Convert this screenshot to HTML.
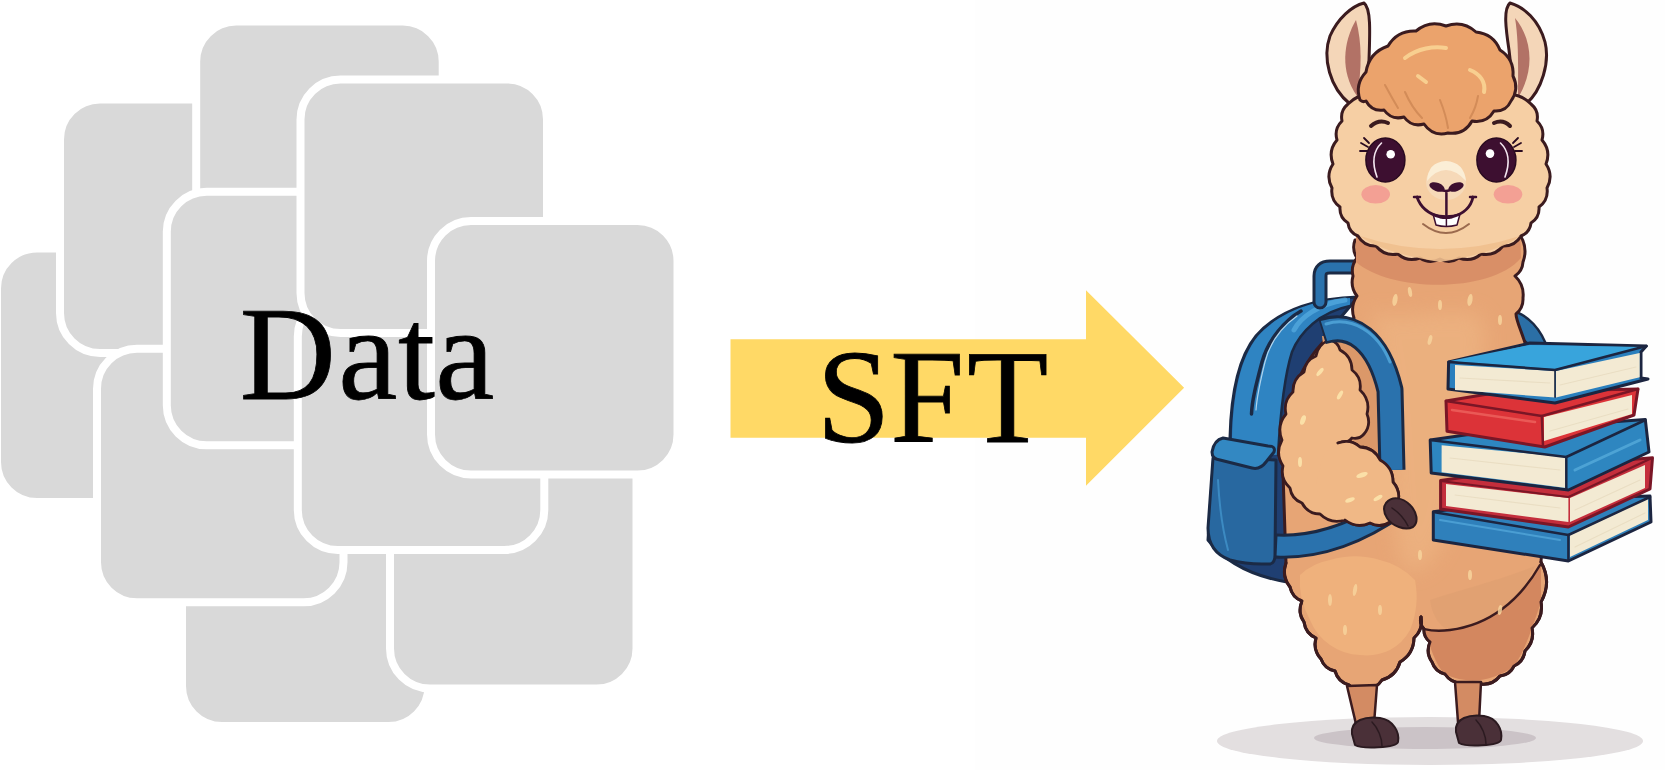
<!DOCTYPE html>
<html><head><meta charset="utf-8">
<style>
html,body{margin:0;padding:0;background:#fff;width:1665px;height:770px;overflow:hidden}
svg{display:block}
.sq{fill:#d9d9d9;stroke:#fff;stroke-width:8}
.t{font-family:"Liberation Serif",serif;fill:#000;stroke:#000;stroke-width:0.8px;font-kerning:none;font-feature-settings:"kern" 0}
</style></head><body>
<svg width="1665" height="770" viewBox="0 0 1665 770">
<rect x="975" y="0" width="690" height="770" fill="#fefefe"/>
<g id="squares">
<rect class="sq" x="-3" y="248.5" width="246.5" height="253.5" rx="40"/>
<rect class="sq" x="60" y="99.5" width="246.5" height="253.5" rx="40"/>
<rect class="sq" x="196.2" y="21.6" width="246.5" height="253.5" rx="40"/>
<rect class="sq" x="182" y="472.5" width="246.5" height="253.5" rx="40"/>
<rect class="sq" x="97" y="348.8" width="246.5" height="253.5" rx="40"/>
<rect class="sq" x="166.8" y="191.8" width="246.5" height="253.5" rx="40"/>
<rect class="sq" x="390" y="435" width="246.5" height="253.5" rx="40"/>
<rect class="sq" x="297.8" y="296.5" width="246.5" height="253.5" rx="40"/>
<rect class="sq" x="300.5" y="79.5" width="246.5" height="253.5" rx="40"/>
<rect class="sq" x="431" y="221" width="246.5" height="253.5" rx="40"/>
</g>
<text class="t" x="239.8 338.2 397.9 435.3" y="398.6" font-size="133">Data</text>
<polygon points="730.5,339.2 1086,339.2 1086,290.3 1184.1,387.8 1086,485.7 1086,437.7 730.5,437.7" fill="#ffd966"/>
<text class="t" x="816.6 890.2 967" y="442" font-size="133">SFT</text>
<g id="llama" stroke-linejoin="round" stroke-linecap="round">
<ellipse cx="1430" cy="741" rx="213" ry="24" fill="#e3dfe0"/>
<ellipse cx="1425" cy="738" rx="111" ry="11" fill="#cbc3c7"/>
<path d="M1510,310 C1528,314 1542,330 1548,350 L1546,366 C1536,350 1524,338 1510,332 Z" fill="#2b6fa6" stroke="#1b2a45" stroke-width="2.5"/>
<path d="M1358,297 C1320,298 1280,308 1256,336 C1238,358 1231,395 1230,438 L1230,450 L1214,452 L1208,540 C1225,562 1252,576 1287,582 L1300,582 L1330,330 Z" fill="#1f3f72" stroke="#1b2a45" stroke-width="3"/>
<path d="M1350,298 C1320,299 1282,309 1258,336 C1240,358 1233,395 1232,438 L1232,452 L1278,455 C1280,420 1283,380 1292,352 C1300,332 1320,312 1350,306 Z" fill="#2f84c2"/>
<path d="M1345,300 C1318,304 1300,318 1294,330" fill="none" stroke="#5fb4e6" stroke-width="5" opacity="0.6"/>
<path d="M1350,306 C1320,312 1300,332 1292,352 C1283,380 1280,420 1278,455" fill="none" stroke="#1b2a45" stroke-width="2.5"/>
<path d="M1301,311 C1285,320 1268,340 1262,362 C1256,385 1252,400 1251.5,414" fill="none" stroke="#1b2a45" stroke-width="3.5"/>
<path d="M1297,316 C1283,326 1270,342 1265,362 C1260,382 1257,396 1256,410" fill="none" stroke="#cfe8f7" stroke-width="1.2" opacity="0.8"/>
<path d="M1320,302 L1320,276 Q1320,267 1330,267 L1358,267" fill="none" stroke="#1b2a45" stroke-width="15"/>
<path d="M1320,302 L1320,276 Q1320,267 1330,267 L1358,267" fill="none" stroke="#2a72ad" stroke-width="9"/>
<path d="M1213,458 L1208,528 Q1208,552 1230,560 Q1245,564 1262,564 L1270,564 Q1275,563 1275,555 L1276,460 Z" fill="#2868a0" stroke="#1b2a45" stroke-width="3"/>
<path d="M1223,438 Q1214,440 1212,452 Q1212,459 1220,460 L1252,468 Q1260,470 1266,462 L1274,452 Q1276,446 1268,446 Z" fill="#3388c2" stroke="#1b2a45" stroke-width="3"/>
<path d="M1218,480 Q1220,520 1228,550" fill="none" stroke="#4aa2d8" stroke-width="2" opacity="0.6"/>
<path d="M1355,240 Q1351.5,249.5 1357.0,258.0 Q1350.5,266.0 1353.0,276.0 Q1350.0,287.0 1357.0,296.0 Q1350.0,306.2 1354.0,318.0 C1330,330 1300,360 1288,410 L1283,473 L1286,563 Q1281.3,576.1 1290.0,587.0 Q1292.1,597.4 1302.0,601.0 Q1297.1,612.1 1304.0,622.0 Q1305.5,633.4 1316.0,638.0 Q1312.6,649.9 1321.0,659.0 Q1324.6,668.9 1335.0,671.0 Q1338.1,681.9 1349.0,685.0 Q1354.6,691.4 1363.0,690.0 Q1375.3,690.3 1382.0,680.0 Q1396.0,676.0 1400.0,662.0 Q1413.7,653.9 1414.0,638.0 Q1423.4,629.5 1421.0,617.0 L1421,617 Q1419.1,623.8 1424.0,629.0 Q1423.4,637.2 1430.0,642.0 Q1425.4,652.6 1432.0,662.0 Q1435.1,671.6 1445.0,674.0 Q1451.0,683.3 1462.0,683.0 Q1471.2,688.8 1481.0,684.0 Q1492.7,685.3 1500.0,676.0 Q1509.8,674.9 1514.0,666.0 Q1523.7,661.6 1525.0,651.0 Q1534.9,641.5 1532.0,628.0 Q1543.8,617.5 1541.0,602.0 Q1552.2,582.0 1541.0,562.0 C1546,500 1540,420 1530,360 C1524,335 1516,322 1516,314 Q1523.5,307.8 1523.0,298.0 Q1524.5,285.0 1515.0,276.0 Q1522.5,271.0 1523.0,262.0 Q1528.2,247.8 1520.0,235.0 Z" fill="#e7a575" stroke="#3b1b1f" stroke-width="3"/>
<defs><filter id="blur8" x="-50%" y="-50%" width="200%" height="200%"><feGaussianBlur stdDeviation="10"/></filter></defs>
<path d="M1370,310 C1400,325 1440,305 1480,315 C1495,335 1470,420 1450,520 C1440,560 1420,575 1405,570 C1385,520 1395,400 1370,310 Z" fill="#eeb583" opacity="0.7" filter="url(#blur8)"/>
<path d="M1300.0,575.0 Q1312.8,563.0 1330.0,560.0 Q1355.0,552.5 1380.0,560.0 Q1400.5,564.8 1415.0,580.0 Q1420.0,605.8 1410.0,630.0 Q1403.0,643.0 1390.0,650.0 Q1375.8,657.0 1360.0,655.0 Q1343.5,654.5 1330.0,645.0 Q1316.2,635.5 1310.0,620.0 Q1298.2,599.0 1300.0,575.0 Z" fill="#efb17c"/>
<path d="M1424,629 C1435,632 1450,630 1450,630 C1490,625 1520,600 1541,565 L1541,602 C1532,628 1525,651 1514,666 C1495,680 1470,686 1445,674 C1435,665 1430,645 1424,629 Z" fill="#d3875f"/>
<path d="M1430,600 C1460,590 1500,580 1535,566 C1520,600 1490,625 1450,630 C1440,628 1432,615 1430,600 Z" fill="#e0a072" opacity="0.8"/>
<path d="M1421.0,617.0 Q1419.1,623.8 1424.0,629.0 Q1423.4,637.2 1430.0,642.0 Q1425.4,652.6 1432.0,662.0 Q1435.1,671.6 1445.0,674.0 Q1451.0,683.3 1462.0,683.0 Q1471.2,688.8 1481.0,684.0 Q1492.7,685.3 1500.0,676.0 Q1509.8,674.9 1514.0,666.0 Q1523.7,661.6 1525.0,651.0 Q1534.9,641.5 1532.0,628.0 Q1543.8,617.5 1541.0,602.0 Q1552.2,582.0 1541.0,562.0" fill="none" stroke="#3b1b1f" stroke-width="3"/>
<path d="M1286.0,563.0 Q1281.3,576.1 1290.0,587.0 Q1292.1,597.4 1302.0,601.0 Q1297.1,612.1 1304.0,622.0 Q1305.5,633.4 1316.0,638.0 Q1312.6,649.9 1321.0,659.0 Q1324.6,668.9 1335.0,671.0 Q1338.1,681.9 1349.0,685.0 Q1354.6,691.4 1363.0,690.0 Q1375.3,690.3 1382.0,680.0 Q1396.0,676.0 1400.0,662.0 Q1413.7,653.9 1414.0,638.0 Q1423.4,629.5 1421.0,617.0" fill="none" stroke="#3b1b1f" stroke-width="3"/>
<path d="M1540,565 C1520,600 1490,625 1450,630 C1435,632 1428,630 1424,629" fill="none" stroke="#3b1b1f" stroke-width="2.5"/>
<path d="M1347,686 L1377,685 L1374,724 L1356,724 Z" fill="#d38b63" stroke="#3b1b1f" stroke-width="2.5"/>
<path d="M1455,682 L1481,682 L1479,722 L1458,722 Z" fill="#d38b63" stroke="#3b1b1f" stroke-width="2.5"/>
<path d="M1352,734 C1350,720 1366,716 1380,718 C1393,720 1400,732 1398,742 C1396,748 1362,749 1355,745 Z" fill="#4a3038" stroke="#2b1a20" stroke-width="2"/>
<path d="M1372,722 C1378,728 1382,738 1382,746" fill="none" stroke="#2b1a20" stroke-width="1.5"/>
<path d="M1456,732 C1454,718 1470,714 1484,716 C1497,718 1503,730 1501,740 C1499,746 1466,747 1459,743 Z" fill="#4a3038" stroke="#2b1a20" stroke-width="2"/>
<path d="M1476,720 C1482,726 1486,736 1486,744" fill="none" stroke="#2b1a20" stroke-width="1.5"/>
<ellipse cx="1395" cy="300" rx="2.5" ry="6.0" transform="rotate(10 1395 300)" fill="#f7d49c" opacity="0.85"/>
<ellipse cx="1410" cy="292" rx="2.0" ry="5.0" transform="rotate(-10 1410 292)" fill="#f7d49c" opacity="0.85"/>
<ellipse cx="1440" cy="305" rx="2.0" ry="5.0" transform="rotate(0 1440 305)" fill="#f7d49c" opacity="0.85"/>
<ellipse cx="1470" cy="300" rx="2.5" ry="6.0" transform="rotate(10 1470 300)" fill="#f7d49c" opacity="0.85"/>
<ellipse cx="1500" cy="320" rx="2.0" ry="5.0" transform="rotate(0 1500 320)" fill="#f7d49c" opacity="0.85"/>
<ellipse cx="1430" cy="340" rx="2.0" ry="5.0" transform="rotate(15 1430 340)" fill="#f7d49c" opacity="0.85"/>
<ellipse cx="1300" cy="440" rx="2.5" ry="6.0" transform="rotate(30 1300 440)" fill="#f7d49c" opacity="0.85"/>
<ellipse cx="1320" cy="395" rx="2.0" ry="5.0" transform="rotate(30 1320 395)" fill="#f7d49c" opacity="0.85"/>
<ellipse cx="1340" cy="470" rx="2.0" ry="5.0" transform="rotate(20 1340 470)" fill="#f7d49c" opacity="0.85"/>
<ellipse cx="1360" cy="480" rx="3.0" ry="6.0" transform="rotate(60 1360 480)" fill="#f7d49c" opacity="0.85"/>
<ellipse cx="1378" cy="490" rx="2.5" ry="5.0" transform="rotate(60 1378 490)" fill="#f7d49c" opacity="0.85"/>
<ellipse cx="1330" cy="600" rx="2.0" ry="6.0" transform="rotate(0 1330 600)" fill="#f7d49c" opacity="0.85"/>
<ellipse cx="1355" cy="590" rx="2.0" ry="6.0" transform="rotate(10 1355 590)" fill="#f7d49c" opacity="0.85"/>
<ellipse cx="1380" cy="610" rx="2.0" ry="5.0" transform="rotate(0 1380 610)" fill="#f7d49c" opacity="0.85"/>
<ellipse cx="1345" cy="630" rx="2.0" ry="5.0" transform="rotate(0 1345 630)" fill="#f7d49c" opacity="0.85"/>
<ellipse cx="1470" cy="575" rx="2.0" ry="5.0" transform="rotate(0 1470 575)" fill="#f7d49c" opacity="0.85"/>
<ellipse cx="1500" cy="610" rx="2.0" ry="5.0" transform="rotate(10 1500 610)" fill="#f7d49c" opacity="0.85"/>
<ellipse cx="1420" cy="555" rx="2.0" ry="5.0" transform="rotate(0 1420 555)" fill="#f7d49c" opacity="0.85"/>
<path d="M1275,546 C1320,548 1360,532 1398,505" fill="none" stroke="#1b2a45" stroke-width="25" stroke-linecap="butt"/>
<path d="M1277,546 C1320,548 1360,532 1398,505" fill="none" stroke="#2a72ad" stroke-width="19" stroke-linecap="butt"/>
<path d="M1322,336 C1345,335 1368,345 1378,380 L1386,455 L1336,452 Z" fill="#db9869"/>
<path d="M1330.0,340.0 Q1318.2,343.8 1316.0,356.0 Q1305.2,360.4 1304.0,372.0 Q1292.5,378.7 1293.0,392.0 Q1282.9,400.9 1286.0,414.0 Q1276.2,425.8 1282.0,440.0 Q1274.7,453.3 1283.0,466.0 Q1279.9,479.1 1290.0,488.0 Q1291.5,499.1 1302.0,503.0 Q1307.7,513.9 1320.0,514.0 Q1330.7,524.5 1345.0,520.0 Q1356.6,529.0 1370.0,523.0 Q1380.3,528.5 1390.0,522.0 Q1398.6,515.6 1397.0,505.0 Q1401.9,492.3 1393.0,482.0 Q1393.1,467.1 1380.0,460.0 Q1373.9,447.5 1360.0,447.0 Q1350.2,438.4 1338.0,443.0 Q1346.5,444.7 1352.0,438.0 Q1359.2,439.6 1364.0,434.0 Q1371.5,424.9 1367.0,414.0 Q1370.7,399.9 1360.0,390.0 Q1362.0,377.6 1352.0,370.0 Q1352.0,356.4 1340.0,350.0 Q1338.0,342.0 1330.0,340.0 Z" fill="#f0b886" stroke="#3b1b1f" stroke-width="2.8"/>
<ellipse cx="1320" cy="372" rx="2.0" ry="5.0" transform="rotate(40 1320 372)" fill="#fbe0a8"/>
<ellipse cx="1303" cy="420" rx="2.5" ry="5.0" transform="rotate(20 1303 420)" fill="#fbe0a8"/>
<ellipse cx="1300" cy="462" rx="2.0" ry="5.0" transform="rotate(0 1300 462)" fill="#fbe0a8"/>
<ellipse cx="1335" cy="485" rx="2.5" ry="6.0" transform="rotate(70 1335 485)" fill="#fbe0a8"/>
<ellipse cx="1362" cy="475" rx="2.5" ry="6.0" transform="rotate(70 1362 475)" fill="#fbe0a8"/>
<ellipse cx="1378" cy="498" rx="2.0" ry="5.0" transform="rotate(60 1378 498)" fill="#fbe0a8"/>
<ellipse cx="1340" cy="395" rx="2.0" ry="5.0" transform="rotate(30 1340 395)" fill="#fbe0a8"/>
<path d="M1322,331 C1352,322 1378,340 1390,390 L1392,470" fill="none" stroke="#1b2a45" stroke-width="27" stroke-linecap="butt"/>
<path d="M1324,331 C1352,322 1378,340 1390,390 L1392,470" fill="none" stroke="#2a72ad" stroke-width="21" stroke-linecap="butt"/>
<path d="M1326,324 C1352,316 1378,332 1390,362" fill="none" stroke="#5ab0e2" stroke-width="3" opacity="0.7"/>
<path d="M1338.0,443.0 Q1320.9,451.1 1320.0,470.0 Q1312.0,485.6 1322.0,500.0 Q1327.5,516.9 1345.0,520.0 Q1356.6,529.0 1370.0,523.0 Q1380.3,528.5 1390.0,522.0 Q1398.6,515.6 1397.0,505.0 Q1401.9,492.3 1393.0,482.0 Q1393.1,467.1 1380.0,460.0 Q1373.9,447.5 1360.0,447.0 Q1350.2,438.4 1338.0,443.0 Z" fill="#f0b886"/>
<path d="M1345.0,520.0 Q1356.6,529.0 1370.0,523.0 Q1380.3,528.5 1390.0,522.0 Q1398.6,515.6 1397.0,505.0 Q1401.9,492.3 1393.0,482.0 Q1393.1,467.1 1380.0,460.0 Q1373.9,447.5 1360.0,447.0 Q1350.2,438.4 1338.0,443.0" fill="none" stroke="#3b1b1f" stroke-width="2.8"/>
<ellipse cx="1362" cy="475" rx="2.5" ry="6.0" transform="rotate(70 1362 475)" fill="#fbe0a8"/>
<ellipse cx="1378" cy="498" rx="2.0" ry="5.0" transform="rotate(60 1378 498)" fill="#fbe0a8"/>
<ellipse cx="1350" cy="500" rx="2.0" ry="5.0" transform="rotate(70 1350 500)" fill="#fbe0a8"/>
<path d="M1386,503 C1392,496 1402,497 1410,505 C1417,512 1419,522 1413,527 C1405,531 1392,526 1387,518 C1384,513 1383,507 1386,503 Z" fill="#4a3038" stroke="#2b1a20" stroke-width="2"/>
<path d="M1392,508 C1398,512 1404,518 1408,526" fill="none" stroke="#2b1a20" stroke-width="1.5"/>
</g>
<g id="head" stroke-linejoin="round" stroke-linecap="round">
<!-- neck band -->
<path d="M1356,226 L1356,262 C1390,292 1490,294 1521,258 L1520,226 Z" fill="#d98f67"/>
<!-- ears -->
<path d="M1350,104 C1330,88 1322,58 1330,36 C1338,18 1352,6 1364,3 C1371,8 1370,32 1369,60 C1368,80 1364,92 1360,102 Z" fill="#f4d6b8" stroke="#3b1b1f" stroke-width="3"/>
<path d="M1356,20 C1343,42 1340,72 1357,96 C1362,70 1362,42 1356,20 Z" fill="#b27266"/>
<path d="M1526,104 C1542,90 1550,62 1545,42 C1539,20 1524,7 1510,3 C1503,9 1506,30 1509,50 C1512,75 1513,90 1514,100 Z" fill="#f4d6b8" stroke="#3b1b1f" stroke-width="3"/>
<path d="M1515,18 C1530,36 1537,66 1518,98 C1518,70 1519,42 1515,18 Z" fill="#b27266"/>
<!-- face -->
<path d="M1348.0,104.0 Q1339.9,110.7 1342.0,121.0 Q1333.8,129.0 1337.0,140.0 Q1327.8,150.8 1333.0,164.0 Q1325.3,175.7 1332.0,188.0 Q1330.3,199.9 1340.0,207.0 Q1339.2,217.4 1348.0,223.0 Q1349.1,232.5 1358.0,236.0 Q1364.0,246.4 1376.0,246.0 Q1384.6,256.6 1398.0,254.0 Q1407.8,262.6 1420.0,258.0 Q1429.7,264.5 1440.0,259.0 Q1449.8,264.2 1459.0,258.0 Q1471.2,262.6 1481.0,254.0 Q1494.4,256.6 1503.0,246.0 Q1515.0,246.4 1521.0,236.0 Q1529.9,232.5 1531.0,223.0 Q1539.8,217.4 1539.0,207.0 Q1548.7,199.9 1547.0,188.0 Q1553.7,175.7 1546.0,164.0 Q1551.2,150.8 1542.0,140.0 Q1545.2,129.0 1537.0,121.0 Q1539.1,110.7 1531.0,104.0 Q1517.9,90.7 1500.0,96.0 Q1471.8,75.0 1440.0,90.0 Q1408.2,75.0 1380.0,96.0 Q1361.6,90.4 1348.0,104.0 Z" fill="#f6cfa4" stroke="#3b1b1f" stroke-width="3"/>
<path d="M1352,226 Q1440,282 1528,226 L1526,234 Q1440,288 1354,234 Z" fill="#eab485" opacity="0.0"/>
<path d="M1360,236 Q1440,262 1520,236 Q1500,252 1440,262 Q1380,252 1360,236 Z" fill="#efbf8e" opacity="0.9"/>
<!-- topknot -->
<path d="M1360.0,100.0 Q1354.6,84.2 1366.0,72.0 Q1369.2,52.4 1388.0,46.0 Q1397.5,30.1 1416.0,31.0 Q1429.5,19.5 1446.0,26.0 Q1462.8,20.0 1476.0,32.0 Q1493.4,33.8 1500.0,50.0 Q1514.3,59.1 1513.0,76.0 Q1519.5,89.1 1511.0,101.0 Q1506.0,112.0 1494.0,111.0 Q1486.5,123.7 1472.0,121.0 Q1464.2,135.4 1448.0,133.0 Q1432.8,136.9 1424.0,124.0 Q1411.5,127.5 1404.0,117.0 Q1391.5,120.5 1384.0,110.0 Q1371.8,111.8 1366.0,101.0 Q1362.7,102.6 1360.0,100.0 Z" fill="#eba36c" stroke="#3b1b1f" stroke-width="3"/>
<path d="M1405,92 Q1412,108 1422,118 M1440,100 Q1446,115 1448,128 M1478,96 Q1476,108 1470,118 M1385,85 Q1392,98 1398,108" fill="none" stroke="#c98150" stroke-width="2" opacity="0.7"/>
<path d="M1405,58 C1418,48 1434,46 1446,48" fill="none" stroke="#f8cf90" stroke-width="4"/>
<path d="M1470,70 C1480,74 1486,82 1484,92" fill="none" stroke="#f8cf90" stroke-width="4"/>
<path d="M1418,76 l8,6" fill="none" stroke="#f8cf90" stroke-width="4"/>
<!-- brows -->
<path d="M1371,126 Q1379,119 1388,123" fill="none" stroke="#3b1b1f" stroke-width="4"/>
<path d="M1494,123 Q1503,119 1510,126" fill="none" stroke="#3b1b1f" stroke-width="4"/>
<!-- eyes -->
<ellipse cx="1385.4" cy="160" rx="19.5" ry="22" fill="#3d0f30" stroke="#2a0a20" stroke-width="1.5"/>
<ellipse cx="1496.4" cy="160" rx="19.5" ry="22" fill="#3d0f30" stroke="#2a0a20" stroke-width="1.5"/>
<path d="M1381.5,143 Q1369,155 1377,177" fill="none" stroke="#f4e6f0" stroke-width="1.6"/>
<path d="M1500.5,143 Q1513,155 1505,177" fill="none" stroke="#f4e6f0" stroke-width="1.6"/>
<circle cx="1390.7" cy="154.3" r="4.3" fill="#fff"/>
<circle cx="1490" cy="153.6" r="4.3" fill="#fff"/>
<path d="M1368,147 L1361,143 M1367,151 L1360,151 M1369,143 L1364,138" stroke="#2a0a20" stroke-width="1.8"/>
<path d="M1514,147 L1521,143 M1515,151 L1522,151 M1513,143 L1518,138" stroke="#2a0a20" stroke-width="1.8"/>
<!-- cheeks -->
<ellipse cx="1375.7" cy="194.3" rx="14.3" ry="9.3" fill="#f3a094"/>
<ellipse cx="1508" cy="194.3" rx="14.3" ry="9.3" fill="#f3a094"/>
<!-- muzzle -->
<ellipse cx="1446" cy="182" rx="20" ry="18" fill="#f6d9b8"/>
<path d="M1427,181 Q1428,162 1446,161 Q1464,162 1466,181 Q1456,170 1446,170 Q1436,170 1427,181 Z" fill="#fbeed6"/>
<!-- nose -->
<ellipse cx="1437" cy="187" rx="8" ry="4.2" transform="rotate(20 1437 187)" fill="#3d0f30"/>
<ellipse cx="1456" cy="187" rx="8" ry="4.2" transform="rotate(-20 1456 187)" fill="#3d0f30"/>
<path d="M1440,189 Q1446,193 1452,189 M1446.4,191 L1446.4,215" fill="none" stroke="#3d0f30" stroke-width="2.5"/>
<!-- teeth -->
<path d="M1433,214 Q1446,218 1460,214 L1457,225 Q1446,228 1436,225 Z" fill="#fff" stroke="#3d0f30" stroke-width="1.5"/>
<path d="M1446.4,216 L1446.4,226" stroke="#3d0f30" stroke-width="1.5"/>
<!-- mouth -->
<path d="M1417,197 Q1422,212 1440,217 Q1446,218 1452,217 Q1470,212 1473,197" fill="none" stroke="#3d0f30" stroke-width="2.8"/>
<path d="M1414,197 L1420,197 M1470,197 L1476,197" stroke="#3d0f30" stroke-width="2.5"/>
<path d="M1423,224 Q1446,242 1469,224" fill="none" stroke="#9b6a4e" stroke-width="2"/>
</g>
<g id="books" stroke-linejoin="round" stroke-linecap="round">
<path d="M1433.3,511.8 L1520.0,500.0 L1650.0,496.0 L1651.0,522.0 L1568.4,561.0 L1433.3,540.0 Z" fill="#2f80bb" stroke="#1c2540" stroke-width="3"/>
<path d="M1570.0,535.0 L1648.0,498.5 L1648.0,520.0 L1570.0,557.0 Z" fill="#f3ead3"/>
<path d="M1433.3,512.0 L1568.4,535.0 L1650.0,497.0" fill="none" stroke="#1c2540" stroke-width="2.5"/>
<path d="M1568.4,535.0 L1568.4,560.0" fill="none" stroke="#1c2540" stroke-width="2.5"/>
<path d="M1440,520 L1560,540" stroke="#5db3e3" stroke-width="2" opacity="0.6"/>
<path d="M1440.6,480.6 L1530.0,468.0 L1652.5,457.8 L1650.0,489.0 L1568.4,527.0 L1440.6,509.0 Z" fill="#c42e3c" stroke="#7a1626" stroke-width="3"/>
<path d="M1446.0,484.0 L1568.4,498.0 L1568.4,522.0 L1446.0,506.0 Z" fill="#f3ead3"/>
<path d="M1570.0,498.0 L1645.0,465.0 L1645.0,488.0 L1570.0,522.0 Z" fill="#f3ead3"/>
<path d="M1440.6,481.0 L1568.4,497.0 L1652.0,458.0" fill="none" stroke="#7a1626" stroke-width="2"/>
<path d="M1430.2,440.1 L1500.0,430.0 L1645.3,419.4 L1649.0,452.0 L1568.4,490.0 L1431.2,473.0 Z" fill="#2e86c0" stroke="#1c2540" stroke-width="3"/>
<path d="M1441.6,445.3 L1566.3,457.0 L1566.3,487.9 L1441.6,472.3 Z" fill="#f3ead3"/>
<path d="M1430.2,440.1 L1566.3,457.0 L1645.3,420.0" fill="none" stroke="#1c2540" stroke-width="2.5"/>
<path d="M1566.3,457.0 L1566.3,489.0" fill="none" stroke="#1c2540" stroke-width="2.5"/>
<path d="M1575,470 L1640,440" stroke="#6cc0ea" stroke-width="3" opacity="0.5"/>
<path d="M1446.0,401.0 L1500.0,392.0 L1638.0,389.0 L1634.0,415.0 L1544.8,447.0 L1447.0,431.3 Z" fill="#dc3338" stroke="#7a1626" stroke-width="3"/>
<path d="M1544.0,417.0 L1632.0,395.0 L1632.0,414.0 L1544.0,441.0 Z" fill="#f3ead3"/>
<path d="M1446.0,401.0 L1541.8,416.0 L1638.0,389.0" fill="none" stroke="#7a1626" stroke-width="2.5"/>
<path d="M1541.8,416.0 L1543.0,446.0" fill="none" stroke="#7a1626" stroke-width="2.5"/>
<path d="M1452,410 L1535,422" stroke="#f06a64" stroke-width="2.5" opacity="0.7"/>
<path d="M1448.6,362.0 L1530.0,343.0 L1646.4,346.0 L1641.0,352.0 L1641.0,378.0 L1648.0,379.0 L1555.0,403.0 L1448.0,389.0 Z" fill="#2a7fbd" stroke="#1c2540" stroke-width="3"/>
<path d="M1455.0,365.0 L1555.0,371.0 L1555.0,397.5 L1455.0,390.0 Z" fill="#f3ead3"/>
<path d="M1556.0,371.0 L1639.7,353.0 L1639.7,377.3 L1556.0,397.5 Z" fill="#f3ead3"/>
<path d="M1450.0,361.0 L1530.0,345.0 L1644.0,347.0 L1555.0,369.0 Z" fill="#38a4dc"/>
<path d="M1448.6,362.0 L1555.0,370.0 L1646.4,346.0" fill="none" stroke="#1c2540" stroke-width="2.5"/>
<path d="M1555.0,370.0 L1555.0,397.0" fill="none" stroke="#1c2540" stroke-width="2" opacity="0.8"/>
<path d="M1460.0,378.0 L1550.0,383.0" stroke="#e6d9bd" stroke-width="1.2" opacity="0.7"/>
<path d="M1560.0,385.0 L1636.0,367.0" stroke="#e6d9bd" stroke-width="1.2" opacity="0.7"/>
<path d="M1550.0,431.0 L1628.0,409.0" stroke="#e6d9bd" stroke-width="1.2" opacity="0.7"/>
<path d="M1450.0,458.0 L1560.0,470.0" stroke="#e6d9bd" stroke-width="1.2" opacity="0.7"/>
<path d="M1575.0,510.0 L1640.0,480.0" stroke="#e6d9bd" stroke-width="1.2" opacity="0.7"/>
<path d="M1575.0,547.0 L1645.0,513.0" stroke="#e6d9bd" stroke-width="1.2" opacity="0.7"/>
<path d="M1455.0,495.0 L1560.0,508.0" stroke="#e6d9bd" stroke-width="1.2" opacity="0.7"/>
</g>
</svg>
</body></html>
